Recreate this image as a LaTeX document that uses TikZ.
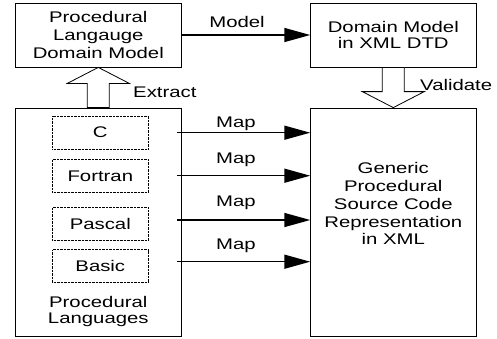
\documentclass[tikz,border=0pt]{standalone}
\usepackage{fontspec}
\setmainfont[FakeStretch=1.32]{Liberation Sans}
\usetikzlibrary{arrows.meta,calc}

\begin{document}
\begin{tikzpicture}[x=1pt,y=-1pt,
  font=\fontsize{15.4}{17.8}\selectfont,
  box/.style={draw,line width=0.8pt,inner sep=0pt,align=center},
  langbox/.style={draw,line width=0.6pt,dash pattern=on 0.7pt off 0.7pt,
    minimum width=96pt,minimum height=33pt,inner sep=0pt},
  flow/.style={line width=1.5pt,-{Triangle[length=26pt,width=14pt]}},
  hollow/.style={draw,line width=0.8pt,fill=white,line join=miter},
  lbl/.style={anchor=base,inner sep=0pt}
]
\useasboundingbox (0,0) rectangle (497,338);

% top row
\node[box,minimum width=166.7pt,minimum height=64pt] (pldm) at (98.3,35)
  {Procedural\\Langauge\\Domain Model};
\node[box,minimum width=165.3pt,minimum height=64pt,
  font=\fontsize{15.4}{15.7}\selectfont] (dtd) at (393.3,35)
  {Domain Model\\in XML DTD};

% bottom row
\node[box,minimum width=166.7pt,minimum height=228pt] (pl) at (98.3,222) {};
\node[box,minimum width=165.3pt,minimum height=228pt] (gen) at (393.3,222) {};

\node[align=center,inner sep=0pt] (gentext) at (393.3,203.7)
  {Generic\\Procedural\\Source Code\\Representation\\in XML};
\node[align=center,inner sep=0pt,font=\fontsize{15.4}{15.6}\selectfont]
  (plname) at (98.3,311.6) {Procedural\\Languages};

% individual languages
\node[langbox] (c)       at (100.3,132.5) {C};
\node[langbox] (fortran) at (100.3,175.8) {Fortran};
\node[langbox] (pascal)  at (100.3,224)   {Pascal};
\node[langbox] (basic)   at (100.3,266.2) {Basic};

% model arrow
\draw[flow] (pldm.east) -- (dtd.west);
\node[lbl] (model) at (237,27) {Model};

% extract (hollow, upwards)
\draw[hollow] (pldm.south) -- ($(pldm.south)+(31,16)$) -- ($(pldm.south)+(11,16)$)
  -- ($(pl.north)+(11,0)$) -- ($(pl.north)+(-11,0)$)
  -- ($(pldm.south)+(-11,16)$) -- ($(pldm.south)+(-31,16)$) -- cycle;
\node[lbl,anchor=base west] (extract) at (133,97) {Extract};

% validate (hollow, downwards)
\draw[hollow] (gen.north) -- ($(gen.north)+(31,-16)$) -- ($(gen.north)+(11,-16)$)
  -- ($(dtd.south)+(11,0)$) -- ($(dtd.south)+(-11,0)$)
  -- ($(gen.north)+(-11,-16)$) -- ($(gen.north)+(-31,-16)$) -- cycle;
\node[lbl,anchor=base west] (validate) at (420,90) {Validate};

% map arrows
\coordinate (m1) at (0,132.7);
\coordinate (m2) at (0,175.7);
\coordinate (m3) at (0,220);
\coordinate (m4) at (0,261.7);
\draw[flow] ($(pl.east |- m1)+(-5,0)$) -- (gen.west |- m1);
\draw[flow] ($(pl.east |- m2)+(-5,0)$) -- (gen.west |- m2);
\draw[flow] ($(pl.east |- m3)+(-5,0)$) -- (gen.west |- m3);
\draw[flow] ($(pl.east |- m4)+(-5,0)$) -- (gen.west |- m4);
\node[lbl] (map1) at (236,127)   {Map};
\node[lbl] (map2) at (236,163)   {Map};
\node[lbl] (map3) at (236,206)   {Map};
\node[lbl] (map4) at (236,249.3) {Map};
\end{tikzpicture}
\end{document}
